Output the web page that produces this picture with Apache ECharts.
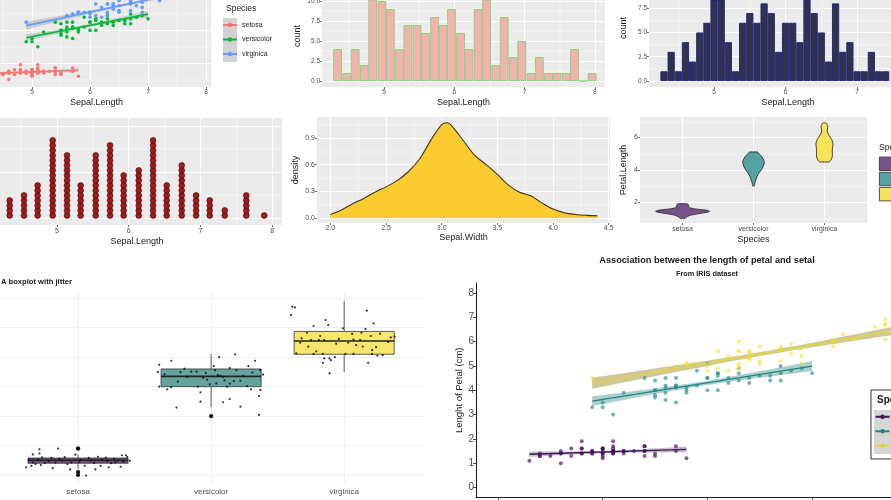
<!DOCTYPE html>
<html><head><meta charset="utf-8">
<script src="https://cdn.jsdelivr.net/npm/echarts@6/dist/echarts.min.js"></script>
<style>html,body{margin:0;padding:0;background:#fff}#c{width:891px;height:500px}</style>
</head><body><div id="c"></div>
<script>
// ================= DATA =================
const species = ['setosa', 'versicolor', 'virginica'];

// iris: Sepal.Length / Petal.Length per species (scatter panels)
const sepalLengthSetosa = [5.1,4.9,4.7,4.6,5.0,5.4,4.6,5.0,4.4,4.9,5.4,4.8,4.8,4.3,5.8,5.7,5.4,5.1,5.7,5.1,5.4,5.1,4.6,5.1,4.8,5.0,5.0,5.2,5.2,4.7,4.8,5.4,5.2,5.5,4.9,5.0,5.5,4.9,4.4,5.1,5.0,4.5,4.4,5.0,5.1,4.8,5.1,4.6,5.3,5.0];
const petalLengthSetosa = [1.4,1.4,1.3,1.5,1.4,1.7,1.4,1.5,1.4,1.5,1.5,1.6,1.4,1.1,1.2,1.5,1.3,1.4,1.7,1.5,1.7,1.5,1.0,1.7,1.9,1.6,1.6,1.5,1.4,1.6,1.6,1.5,1.5,1.4,1.5,1.2,1.3,1.4,1.3,1.5,1.3,1.3,1.3,1.6,1.9,1.4,1.6,1.4,1.5,1.4];
const sepalLengthVersicolor = [7.0,6.4,6.9,5.5,6.5,5.7,6.3,4.9,6.6,5.2,5.0,5.9,6.0,6.1,5.6,6.7,5.6,5.8,6.2,5.6,5.9,6.1,6.3,6.1,6.4,6.6,6.8,6.7,6.0,5.7,5.5,5.5,5.8,6.0,5.4,6.0,6.7,6.3,5.6,5.5,5.5,6.1,5.8,5.0,5.6,5.7,5.7,6.2,5.1,5.7];
const petalLengthVersicolor = [4.7,4.5,4.9,4.0,4.6,4.5,4.7,3.3,4.6,3.9,3.5,4.2,4.0,4.7,3.6,4.4,4.5,4.1,4.5,3.9,4.8,4.0,4.9,4.7,4.3,4.4,4.8,5.0,4.5,3.5,3.8,3.7,3.9,5.1,4.5,4.5,4.7,4.4,4.1,4.0,4.4,4.6,4.0,3.3,4.2,4.2,4.2,4.3,3.0,4.1];
const sepalLengthVirginica = [6.3,5.8,7.1,6.3,6.5,7.6,4.9,7.3,6.7,7.2,6.5,6.4,6.8,5.7,5.8,6.4,6.5,7.7,7.7,6.0,6.9,5.6,7.7,6.3,6.7,7.2,6.2,6.1,6.4,7.2,7.4,7.9,6.4,6.3,6.1,7.7,6.3,6.4,6.0,6.9,6.7,6.9,5.8,6.8,6.7,6.7,6.3,6.5,6.2,5.9];
const petalLengthVirginica = [6.0,5.1,5.9,5.6,5.8,6.6,4.5,6.3,5.8,6.1,5.1,5.3,5.5,5.0,5.1,5.3,5.5,6.7,6.9,5.0,5.7,4.9,6.7,4.9,5.7,6.0,4.8,4.9,5.6,5.8,6.1,6.4,5.6,5.1,5.6,6.1,5.6,5.5,4.8,5.4,5.6,5.1,5.1,5.9,5.7,5.2,5.0,5.2,5.4,5.1];

// Histogram (30 bins) of Sepal.Length: bin centres and counts
const hist30Centers = [4.34,4.47,4.59,4.72,4.84,4.97,5.09,5.22,5.34,5.47,5.59,5.72,5.84,5.96,6.09,6.21,6.34,6.46,6.59,6.71,6.84,6.96,7.09,7.21,7.34,7.46,7.59,7.71,7.84,7.96];
const hist30Counts  = [4,1,4,2,11,10,9,4,7,7,6,8,7,9,6,4,9,12,2,8,3,5,1,3,1,1,1,4,0,1];

// Histogram (binwidth 0.1) of Sepal.Length
const hist01Centers = [4.3,4.4,4.5,4.6,4.7,4.8,4.9,5.0,5.1,5.2,5.3,5.4,5.5,5.6,5.7,5.8,5.9,6.0,6.1,6.2,6.3,6.4,6.5,6.6,6.7,6.8,6.9,7.0,7.1,7.2,7.3,7.4];
const hist01Counts  = [1,3,1,4,2,5,6,10,9,4,1,6,7,6,8,7,3,6,6,4,9,7,5,2,8,3,4,1,1,3,1,1];

// Dot plot of Sepal.Length: stack centres and dot counts
const dotCenters = [4.34,4.54,4.73,4.94,5.14,5.33,5.54,5.74,5.93,6.14,6.34,6.53,6.74,6.94,7.13,7.34,7.64,7.89];
const dotCounts  = [4,5,7,16,13,7,13,15,9,10,16,7,11,5,4,2,5,1];

// Density of Sepal.Width
const densityX = [2.0,2.1,2.2,2.3,2.4,2.5,2.6,2.7,2.8,2.9,3.0,3.05,3.1,3.2,3.3,3.4,3.5,3.6,3.7,3.8,3.9,4.0,4.1,4.2,4.3,4.4];
const densityY = [0.04,0.09,0.16,0.22,0.29,0.35,0.42,0.52,0.66,0.87,1.05,1.07,1.02,0.86,0.70,0.60,0.49,0.37,0.29,0.25,0.17,0.10,0.06,0.04,0.03,0.025];

// Violin profiles of Petal.Length: [value, half width (category units)]
const violinSetosa = [[1.0,0.03],[1.1,0.06],[1.2,0.11],[1.3,0.23],[1.4,0.36],[1.45,0.38],[1.5,0.35],[1.55,0.26],[1.6,0.16],[1.65,0.11],[1.7,0.09],[1.8,0.085],[1.9,0.07]];
const violinVersicolor = [[3.0,0.01],[3.2,0.02],[3.4,0.035],[3.6,0.05],[3.8,0.075],[4.0,0.11],[4.2,0.135],[4.4,0.15],[4.5,0.152],[4.6,0.145],[4.8,0.12],[4.9,0.1],[5.0,0.08],[5.1,0.06]];
const violinVirginica = [[4.5,0.07],[4.6,0.09],[4.8,0.11],[5.0,0.112],[5.2,0.11],[5.4,0.115],[5.6,0.12],[5.8,0.11],[6.0,0.085],[6.2,0.055],[6.4,0.04],[6.6,0.045],[6.7,0.048],[6.8,0.038],[6.9,0.025]];

// Boxplot stats of Petal.Length: [lower whisker, Q1, median, Q3, upper whisker]
const boxStats = [[1.2,1.4,1.5,1.575,1.7],[3.3,4.0,4.35,4.6,5.1],[4.5,5.1,5.55,5.875,6.9]];
const boxOutliers = [[1,1.0],[1,1.1],[1,1.9],[1,1.9],[2,3.0]];
// Jittered points: [horizontal offset from category, Petal.Length]
const setosaJitter = [[-0.34,1.70],[-0.29,1.87],[-0.29,1.73],[-0.15,1.90],[-0.34,1.42],[-0.35,1.31],[-0.39,1.26],[-0.32,1.37],[-0.19,1.23],[-0.08,1.37],[0.06,0.98],[0.13,1.19],[0.23,1.26],[0.32,1.28],[0.33,1.67],[0.36,1.67],[0.39,1.48],[0.21,1.59],[-0.30,1.52],[-0.25,1.41],[-0.20,1.58],[-0.12,1.49],[-0.05,1.42],[0.02,1.51],[0.08,1.58],[0.12,1.41],[0.18,1.52],[0.25,1.40],[0.30,1.49],[0.37,1.61],[-0.37,1.50],[-0.27,1.60],[-0.17,1.42],[0.05,1.31],[0.15,1.62],[0.28,1.43],[-0.10,1.61],[0.22,1.48],[0.34,1.45],[-0.22,1.46],[-0.02,1.69],[0.10,1.50],[-0.28,1.34],[0.17,1.31],[0.27,1.55],[-0.14,1.55],[0.01,1.44],[-0.06,1.19]];
const versicolorJitter = [[-0.39,4.74],[-0.30,4.88],[-0.40,4.49],[-0.39,4.00],[-0.33,3.91],[-0.30,3.98],[-0.25,4.17],[-0.26,3.29],[-0.15,4.51],[-0.11,4.51],[-0.08,3.81],[-0.08,3.49],[-0.03,4.23],[0.02,4.70],[0.03,4.56],[0.04,4.11],[0.06,5.00],[0.07,4.37],[0.09,3.47],[0.09,4.33],[0.12,4.00],[0.14,4.63],[0.14,3.58],[0.17,4.19],[0.18,5.10],[0.19,4.56],[0.22,3.32],[0.24,4.37],[0.28,4.70],[0.30,3.91],[0.33,4.88],[0.36,3.68],[0.36,3.04],[0.37,3.89],[0.39,4.41],[0.37,4.56],[0.05,4.39],[-0.01,4.08],[-0.18,4.33],[-0.23,4.49],[-0.06,4.30],[0.22,4.20],[-0.10,4.00],[0.14,4.10],[-0.35,4.42],[0.27,4.02],[-0.20,4.61],[0.31,4.48],[-0.04,4.47],[0.10,4.21]];
const virginicaJitter = [[-0.39,6.72],[-0.37,6.69],[-0.40,6.43],[-0.23,6.06],[-0.14,6.26],[-0.12,6.09],[-0.01,5.98],[0.17,6.58],[0.22,6.15],[0.16,5.96],[0.13,5.83],[0.06,5.79],[-0.28,5.83],[-0.32,5.64],[-0.25,5.58],[-0.19,5.58],[-0.15,5.58],[-0.33,5.49],[-0.27,5.36],[-0.36,5.13],[-0.23,5.11],[-0.16,5.11],[-0.15,4.96],[-0.11,4.96],[-0.10,4.90],[-0.07,5.00],[-0.16,4.81],[-0.11,4.45],[0.01,5.11],[0.07,5.11],[0.14,5.36],[0.21,5.24],[0.24,5.34],[0.29,5.07],[0.35,5.67],[0.18,4.81],[0.20,5.72],[0.07,5.60],[0.03,5.49],[-0.06,5.46],[0.12,5.58],[0.27,5.80],[-0.18,5.72],[0.21,5.11],[0.33,5.52],[-0.04,5.62],[0.09,5.41],[-0.21,5.20],[0.25,5.05],[0.38,5.70]];

// Texts
const titleBoxplot = 'A boxplot with jitter';
const titleAssoc = 'Association between the length of petal and setal';
const subtitleAssoc = 'From IRIS dataset';
const legendTitle = 'Species';

// ================= STYLE / HELPERS =================
const FONT = '"Liberation Sans", Arial, Helvetica, sans-serif';
const GG_BG = '#EBEBEB';
const ggHue = ['#F8766D', '#00BA38', '#619CFF'];
const violinFill = ['#76548a', '#53a3a3', '#f7e357'];
const boxFill = ['#6f4f80', '#65a39e', '#f7e66e'];
const p8Point = ['rgba(68,1,84,0.8)', 'rgba(33,144,140,0.8)', 'rgba(245,225,40,0.75)'];
const p8Line = ['#3b1650', '#23847f', '#e3d440'];
const p8Band = ['rgba(120,100,135,0.42)', 'rgba(60,140,135,0.42)', 'rgba(165,155,70,0.55)'];
const LINE_ICON = 'path://M0,0L0.01,0M14,14L13.99,14M0,6H14V8H0ZM4.8,7A2.2,2.2,0,1,1,9.2,7A2.2,2.2,0,1,1,4.8,7Z';

const irisSL = [sepalLengthSetosa, sepalLengthVersicolor, sepalLengthVirginica];
const irisPL = [petalLengthSetosa, petalLengthVersicolor, petalLengthVirginica];
const violins = [violinSetosa, violinVersicolor, violinVirginica];
const jitters = [setosaJitter, versicolorJitter, virginicaJitter];

const grids = [], xAxes = [], yAxes = [], series = [];

function mainAxis(a, gi, pos) {
  return {
    type: 'value', gridIndex: gi, position: pos, min: a.min, max: a.max, silent: true,
    axisLine: {show: !!a.line, onZero: false, lineStyle: {color: '#000', width: 0.9}},
    axisTick: {show: !!a.tick, inside: false, length: a.tickLen || 2, customValues: a.major,
      lineStyle: {color: a.tickColor || '#333', width: 0.7}},
    axisLabel: {show: !!a.labels, customValues: a.major, margin: (a.margin != null ? a.margin : 2),
      fontSize: a.fs || 6.5, color: '#4d4d4d', fontFamily: FONT, formatter: a.fmt || (v => String(v))},
    splitLine: {show: !!a.grid, lineStyle: {color: a.gridColor || '#ffffff', width: a.gridW || 0.9}},
    name: a.name || '', nameLocation: 'middle', nameGap: a.nameGap || 10,
    nameTextStyle: {fontSize: a.nfs || 9, color: '#1a1a1a', fontFamily: FONT, padding: a.namePad || 0}
  };
}
function minorAxis(a, gi, pos) {
  return {
    type: 'value', gridIndex: gi, position: pos, min: a.min, max: a.max, silent: true,
    axisLine: {show: false, onZero: false},
    axisTick: {show: false, customValues: a.minor},
    axisLabel: {show: false, customValues: a.minor},
    splitLine: {show: true, lineStyle: {color: a.minorColor || '#ffffff', width: 0.45}}
  };
}
function addPanel(p) {
  const gi = grids.length;
  grids.push({left: p.left, top: p.top, width: p.width, height: p.height, show: !!p.bg,
    backgroundColor: p.bg || 'transparent', borderWidth: 0, borderColor: 'transparent',
    containLabel: false, outerBoundsMode: 'none'});
  const xi = xAxes.length; xAxes.push(mainAxis(p.x, gi, 'bottom'));
  const yi = yAxes.length; yAxes.push(mainAxis(p.y, gi, 'left'));
  if (p.x.minor) xAxes.push(minorAxis(p.x, gi, 'top'));
  if (p.y.minor) yAxes.push(minorAxis(p.y, gi, 'right'));
  return {xi, yi};
}
function lmFit(xs, ys, steps) {
  const n = xs.length;
  const mx = xs.reduce((s, v) => s + v, 0) / n, my = ys.reduce((s, v) => s + v, 0) / n;
  let sxx = 0, sxy = 0;
  for (let i = 0; i < n; i++) { sxx += (xs[i] - mx) ** 2; sxy += (xs[i] - mx) * (ys[i] - my); }
  const b = sxy / sxx, a = my - b * mx;
  let sse = 0;
  for (let i = 0; i < n; i++) sse += (ys[i] - a - b * xs[i]) ** 2;
  const s = Math.sqrt(sse / (n - 2)), T = 2.0106;
  const x0 = Math.min(...xs), x1 = Math.max(...xs), out = [];
  for (let k = 0; k <= steps; k++) {
    const x = x0 + (x1 - x0) * k / steps, yh = a + b * x;
    const se = s * Math.sqrt(1 / n + (x - mx) ** 2 / sxx);
    out.push([x, yh - T * se, yh + T * se, yh]);
  }
  return out;
}
function bandSeries(P, pts, fill) {
  return {type: 'custom', xAxisIndex: P.xi, yAxisIndex: P.yi, silent: true, data: pts,
    encode: {x: 0, y: [1, 2]},
    renderItem(params, api) {
      if (params.dataIndex !== 0) return null;
      const up = pts.map(p => api.coord([p[0], p[2]]));
      const lo = pts.map(p => api.coord([p[0], p[1]])).reverse();
      return {type: 'polygon', shape: {points: up.concat(lo)}, style: {fill: fill}};
    }};
}
function fitLine(P, fit, color, w) {
  const f0 = fit[0], f1 = fit[fit.length - 1];
  return {type: 'line', xAxisIndex: P.xi, yAxisIndex: P.yi, silent: true, symbol: 'none',
    data: [[f0[0], f0[3]], [f1[0], f1[3]]], lineStyle: {color: color, width: w}};
}

// ================= PANELS =================
// P1: scatter + lm (ggplot default hues)
const P1 = addPanel({left: 0, top: 0, width: 211, height: 87, bg: GG_BG,
  x: {min: 4.448, max: 8.086, major: [5, 6, 7, 8], minor: [4.5, 5.5, 6.5, 7.5], labels: true, tick: true, grid: true,
      margin: 2, name: 'Sepal.Length', nameGap: 11, namePad: [0, 18, 0, 0]},
  y: {min: 0.545, max: 5.85, major: [2, 4], minor: [1, 3, 5], grid: true}});
species.forEach((sp, i) => {
  series.push({type: 'scatter', name: sp, xAxisIndex: P1.xi, yAxisIndex: P1.yi, silent: true,
    data: irisSL[i].map((x, k) => [x, irisPL[i][k]]), symbolSize: 3.6, itemStyle: {color: ggHue[i], opacity: 1}});
});
species.forEach((sp, i) => {
  const fit = lmFit(irisSL[i], irisPL[i], 40);
  series.push(bandSeries(P1, fit, 'rgba(153,153,153,0.4)'));
  series.push(fitLine(P1, fit, ggHue[i], 1.6));
});

// P2: histogram, 30 bins
const P2 = addPanel({left: 322, top: 0, width: 283, height: 87, bg: GG_BG,
  x: {min: 4.118, max: 8.144, major: [5, 6, 7, 8], minor: [4.5, 5.5, 6.5, 7.5], labels: true, tick: true, grid: true,
      margin: 2, name: 'Sepal.Length', nameGap: 11},
  y: {min: -0.75, max: 10.125, major: [0, 2.5, 5, 7.5, 10], minor: [1.25, 3.75, 6.25, 8.75], labels: true, tick: true,
      grid: true, fmt: v => v.toFixed(1), name: 'count', nameGap: 20, namePad: [0, 0, 0, 15]}});
series.push({type: 'bar', xAxisIndex: P2.xi, yAxisIndex: P2.yi, silent: true, barWidth: 8.8,
  data: hist30Centers.map((c, i) => [c, hist30Counts[i]]),
  itemStyle: {color: '#F5B1AE', borderColor: '#8CD47E', borderWidth: 1}});

// P3: histogram, binwidth 0.1
const P3 = addPanel({left: 649, top: 0, width: 242, height: 87, bg: GG_BG,
  x: {min: 4.09, max: 7.475, major: [5, 6, 7], minor: [4.5, 5.5, 6.5], labels: true, tick: true, grid: true,
      margin: 2, name: 'Sepal.Length', nameGap: 11, namePad: [0, 0, 0, 36]},
  y: {min: -0.62, max: 8.35, major: [0, 2.5, 5, 7.5], minor: [1.25, 3.75, 6.25], labels: true, tick: true,
      grid: true, fmt: v => v.toFixed(1), name: 'count', nameGap: 21, namePad: [0, 0, 0, 31]}});
series.push({type: 'bar', xAxisIndex: P3.xi, yAxisIndex: P3.yi, silent: true, barWidth: 7.15,
  data: hist01Centers.map((c, i) => [c, hist01Counts[i]]),
  itemStyle: {color: '#32324a', borderColor: '#1c1c92', borderWidth: 0.9}});

// P4: dot plot
const DOT_STEP = 0.0272;
const P4 = addPanel({left: 0, top: 118, width: 282, height: 107, bg: GG_BG,
  x: {min: 4.205, max: 8.138, major: [5, 6, 7, 8], minor: [4.5, 5.5, 6.5, 7.5], labels: true, tick: true, grid: true,
      margin: 3, fs: 7, name: 'Sepal.Length', nameGap: 12, namePad: [0, 8, 0, 0]},
  y: {min: -0.038, max: 0.543, major: [0, 0.25, 0.5], minor: [0.125, 0.375], grid: true}});
const dotData = [];
dotCenters.forEach((c, i) => { for (let k = 0; k < dotCounts[i]; k++) dotData.push([c, (k + 0.5) * DOT_STEP]); });
series.push({type: 'scatter', xAxisIndex: P4.xi, yAxisIndex: P4.yi, silent: true, data: dotData, symbolSize: 5.8,
  itemStyle: {color: '#a51b1b', borderColor: '#3d0808', borderWidth: 0.6, opacity: 1}});

// P5: density
const P5 = addPanel({left: 317, top: 117, width: 293, height: 106, bg: GG_BG,
  x: {min: 1.88, max: 4.512, major: [2, 2.5, 3, 3.5, 4, 4.5], minor: [2.25, 2.75, 3.25, 3.75, 4.25], labels: true,
      tick: true, grid: true, margin: 2, fs: 7, fmt: v => v.toFixed(1), name: 'Sepal.Width', nameGap: 9},
  y: {min: -0.056, max: 1.135, major: [0, 0.3, 0.6, 0.9], minor: [0.15, 0.45, 0.75, 1.05], labels: true, tick: true,
      grid: true, fs: 7, fmt: v => v.toFixed(1), name: 'density', nameGap: 17}});
series.push({type: 'line', xAxisIndex: P5.xi, yAxisIndex: P5.yi, silent: true, symbol: 'none', smooth: 0.35,
  data: densityX.map((x, i) => [x, densityY[i]]),
  lineStyle: {color: '#3a3520', width: 1.1}, areaStyle: {color: '#FBCB30', opacity: 1}});

// P6: violin
const P6 = addPanel({left: 640, top: 117, width: 227, height: 106, bg: GG_BG,
  x: {min: 0.4, max: 3.6, major: [1, 2, 3], labels: true, tick: true, grid: true, margin: 3, fs: 7,
      fmt: v => species[v - 1], name: 'Species', nameGap: 12},
  y: {min: 0.72, max: 7.27, major: [2, 4, 6], minor: [1, 3, 5, 7], labels: true, tick: true, grid: true, fs: 7,
      name: 'Petal.Length', nameGap: 12}});
violins.forEach((prof, i) => {
  const xc = i + 1;
  series.push({type: 'custom', xAxisIndex: P6.xi, yAxisIndex: P6.yi, silent: true,
    data: prof.map(r => [xc, r[0], r[1]]), encode: {x: 0, y: 1},
    renderItem(params, api) {
      if (params.dataIndex !== 0) return null;
      const pts = [];
      prof.forEach(r => pts.push(api.coord([xc - r[1], r[0]])));
      for (let k = prof.length - 1; k >= 0; k--) pts.push(api.coord([xc + prof[k][1], prof[k][0]]));
      return {type: 'polygon', shape: {points: pts, smooth: 0.2},
        style: {fill: violinFill[i], stroke: '#2b2b2b', lineWidth: 0.9}};
    }});
});

// P7: boxplot with jitter (theme_minimal)
const BOX_HALF = 0.376;
const P7 = addPanel({left: 0, top: 292, width: 424, height: 191,
  x: {min: 0.4135, max: 3.6, major: [1, 2, 3], labels: true, grid: true, gridColor: '#ebebeb', gridW: 0.8,
      margin: 5, fs: 8, fmt: v => species[v - 1]},
  y: {min: 0.728, max: 7.214, major: [1, 2, 3, 4, 5, 6, 7], grid: true, gridColor: '#ebebeb', gridW: 0.8}});
series.push({type: 'custom', xAxisIndex: P7.xi, yAxisIndex: P7.yi, silent: true,
  data: boxStats.map((s, i) => [i + 1].concat(s)), encode: {x: 0, y: [1, 2, 3, 4, 5]},
  renderItem(params, api) {
    const x = api.value(0);
    const pLo = api.coord([x, api.value(1)]), pQ1 = api.coord([x, api.value(2)]), pMed = api.coord([x, api.value(3)]);
    const pQ3 = api.coord([x, api.value(4)]), pHi = api.coord([x, api.value(5)]);
    const hw = api.size([BOX_HALF, 0])[0];
    const ls = {stroke: '#333', lineWidth: 0.8};
    return {type: 'group', children: [
      {type: 'line', shape: {x1: pLo[0], y1: pLo[1], x2: pQ1[0], y2: pQ1[1]}, style: ls},
      {type: 'line', shape: {x1: pQ3[0], y1: pQ3[1], x2: pHi[0], y2: pHi[1]}, style: ls},
      {type: 'rect', shape: {x: pQ1[0] - hw, y: pQ3[1], width: 2 * hw, height: pQ1[1] - pQ3[1]},
        style: {fill: boxFill[params.dataIndex], stroke: '#333', lineWidth: 0.8}},
      {type: 'line', shape: {x1: pMed[0] - hw, y1: pMed[1], x2: pMed[0] + hw, y2: pMed[1]}, style: {stroke: '#222', lineWidth: 1.6}}
    ]};
  }});
series.push({type: 'scatter', xAxisIndex: P7.xi, yAxisIndex: P7.yi, silent: true, data: boxOutliers, symbolSize: 4.2,
  itemStyle: {color: '#111', opacity: 1}});
jitters.forEach((arr, i) => {
  series.push({type: 'scatter', xAxisIndex: P7.xi, yAxisIndex: P7.yi, silent: true,
    data: arr.map(p => [i + 1 + p[0], p[1]]), symbolSize: 2.2, itemStyle: {color: '#111', opacity: 0.85}});
});

// P8: association scatter + lm (theme_classic)
const P8 = addPanel({left: 476, top: 283, width: 415, height: 214.5,
  x: {min: 3.79, max: 7.754, major: [4, 5, 6, 7], line: true, tick: true, tickLen: 3, tickColor: '#000'},
  y: {min: -0.41, max: 8.41, major: [0, 1, 2, 3, 4, 5, 6, 7, 8], labels: true, line: true, tick: true, tickLen: 3,
      tickColor: '#000', fs: 10, margin: 2, name: 'Lenght of Petal (cm)', nfs: 9.5, nameGap: 12}});
species.forEach((sp, i) => {
  series.push({type: 'scatter', xAxisIndex: P8.xi, yAxisIndex: P8.yi, silent: true,
    data: irisSL[i].map((x, k) => [x, irisPL[i][k]]), symbolSize: 4, itemStyle: {color: p8Point[i]}});
});
species.forEach((sp, i) => {
  const fit = lmFit(irisSL[i], irisPL[i], 40);
  series.push(bandSeries(P8, fit, p8Band[i]));
  series.push(fitLine(P8, fit, p8Line[i], 1.3));
});

// ================= LEGENDS =================
const legends = [
  {left: 223, top: 18, orient: 'vertical', itemWidth: 14, itemHeight: 14, itemGap: 0.5, padding: 0,
    selectedMode: false, icon: LINE_ICON, textStyle: {fontSize: 7, color: '#222', fontFamily: FONT},
    data: species.map((s, i) => ({name: s, icon: LINE_ICON, itemStyle: {color: ggHue[i], borderWidth: 0, opacity: 1}}))},
  {left: 879, top: 156.7, orient: 'vertical', itemWidth: 17, itemHeight: 13.4, itemGap: 1, padding: 0,
    selectedMode: false, icon: 'rect', formatter: () => '', textStyle: {fontSize: 6},
    data: species.map((s, i) => ({name: s, icon: 'rect', itemStyle: {color: violinFill[i], borderColor: '#2b2b2b', borderWidth: 0.8, opacity: 1}}))},
  {left: 874, top: 409.7, orient: 'vertical', itemWidth: 17, itemHeight: 14, itemGap: 0.5, padding: 0, z: 6,
    selectedMode: false, icon: LINE_ICON, formatter: () => '', textStyle: {fontSize: 6},
    data: species.map((s, i) => ({name: s, icon: LINE_ICON, itemStyle: {color: p8Line[i], borderWidth: 0, opacity: 1}}))}
];

// ================= DECORATION / TITLES =================
function txt(x, y, text, size, weight, align, extra) {
  return Object.assign({type: 'text', x: x, y: y, silent: true, z: 5,
    style: {text: text, fontSize: size, fontWeight: weight || 'normal', fontFamily: FONT, fill: '#1a1a1a',
      align: align || 'left', verticalAlign: 'middle', textAlign: align || 'left', textVerticalAlign: 'middle'}}, extra || {});
}
const graphics = [
  {type: 'rect', silent: true, z: 0, shape: {x: 223, y: 18, width: 14, height: 44}, style: {fill: '#d3d3d3'}},
  txt(226, 9, legendTitle, 8.5),
  txt(879, 148, legendTitle, 8.5),
  txt(1, 282, titleBoxplot, 7.6, 'bold'),
  txt(707, 260, titleAssoc, 9.2, 'bold', 'center'),
  txt(707, 274, subtitleAssoc, 7.3, 'bold', 'center'),
  {type: 'rect', silent: true, z: 4, shape: {x: 871, y: 390, width: 40, height: 69}, style: {fill: '#ffffff', stroke: '#000', lineWidth: 0.8}},
  {type: 'rect', silent: true, z: 4.5, shape: {x: 874, y: 410, width: 20, height: 44}, style: {fill: '#d6d6d6'}},
  txt(877, 400, legendTitle, 10, 'bold', 'left', {z: 5})
];

const chart = echarts.init(document.getElementById('c'), null, {renderer: 'canvas'});
chart.setOption({
  animation: false,
  backgroundColor: '#ffffff',
  textStyle: {fontFamily: FONT},
  grid: grids, xAxis: xAxes, yAxis: yAxes, series: series, legend: legends,
  graphic: {elements: graphics}
});
</script>
</body></html>
